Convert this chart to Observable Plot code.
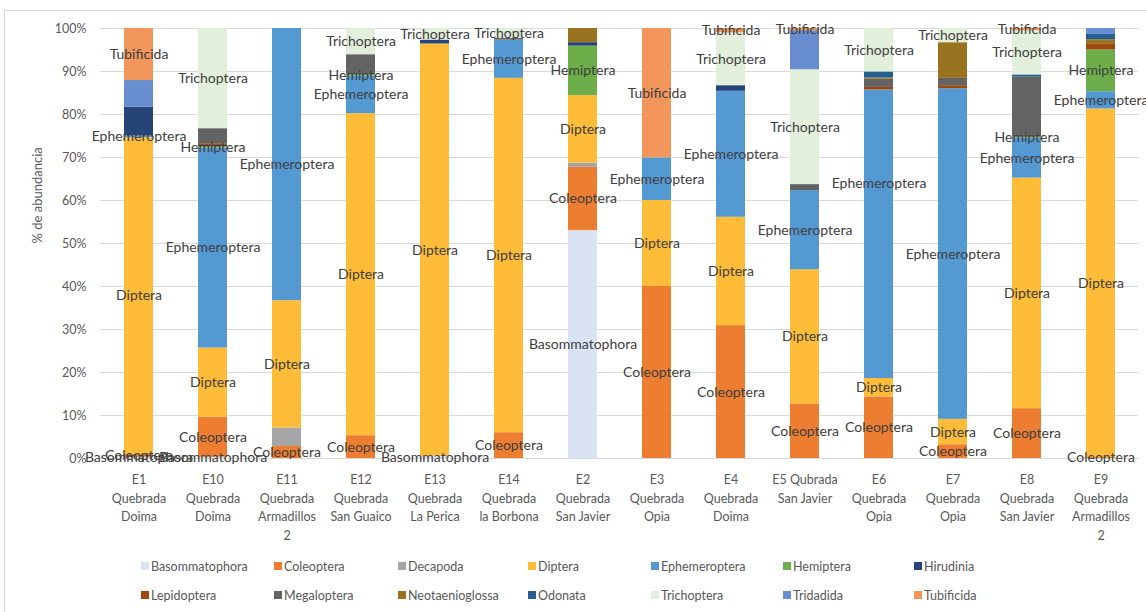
<!DOCTYPE html>
<html><head><meta charset="utf-8">
<script src="https://cdn.jsdelivr.net/npm/d3@7"></script>
<script src="https://cdn.jsdelivr.net/npm/@observablehq/plot@0.6"></script>
<style>
body{margin:0;background:#fff;font-family:Lato,sans-serif;}
#wrap{position:relative;width:1146px;height:612px;overflow:hidden;}
#frame{position:absolute;left:4px;top:10px;width:1170px;height:640px;border:1px solid #d9d9d9;}
#chart{position:absolute;left:0;top:0;}
.leg{position:absolute;font-size:12.5px;color:#595959;display:flex;align-items:center;white-space:nowrap;height:14px;}
.leg .sw{display:inline-block;width:8px;height:8px;margin-right:2px;}
</style></head><body>
<div id="wrap"><div id="frame"></div><div id="chart"></div><div id="legend"></div></div>
<script>
// Sites (categories) and tick labels
const sites = ["E1","E10","E11","E12","E13","E14","E2","E3","E4","E5","E6","E7","E8","E9"];
const siteLabels = [
  "E1\nQuebrada\nDoima","E10\nQuebrada\nDoima","E11\nQuebrada\nArmadillos\n2","E12\nQuebrada\nSan Guaico",
  "E13\nQuebrada\nLa Perica","E14\nQuebrada\nla Borbona","E2\nQuebrada\nSan Javier","E3\nQuebrada\nOpia",
  "E4\nQuebrada\nDoima","E5 Qubrada\nSan Javier","E6\nQuebrada\nOpia","E7\nQuebrada\nOpia",
  "E8\nQuebrada\nSan Javier","E9\nQuebrada\nArmadillos\n2"
];
const taxa = ["Basommatophora","Coleoptera","Decapoda","Diptera","Ephemeroptera","Hemiptera","Hirudinia",
  "Lepidoptera","Megaloptera","Neotaenioglossa","Odonata","Trichoptera","Tridadida","Tubificida"];
const colors = ["#DAE3F3","#ED7D31","#A5A5A5","#FEBC38","#5599D3","#6DAD4A","#264478",
  "#9E480E","#636363","#99731F","#255E91","#E2EFDA","#698ED0","#F3965C"];
const labelledTaxa = ["Basommatophora","Coleoptera","Diptera","Ephemeroptera","Hemiptera","Trichoptera","Tubificida"];
const yTicks = [0,0.1,0.2,0.3,0.4,0.5,0.6,0.7,0.8,0.9,1];
// data label that was dragged upward in the original chart (site, taxon)
const movedLabel = ["E6", "Ephemeroptera"];

// Percent abundance per taxon, in site order above
//                      E1    E10   E11   E12   E13   E14   E2    E3    E4    E5    E6    E7    E8    E9
const Basommatophora = [0.3,  0.3,  0,    0,    0.5,  0,    53.0, 0,    0,    0,    0,    0,    0,    0];
const Coleoptera     = [0.7,  9.3,  2.8,  5.3,  0,    6.0,  14.7, 40.0, 30.9, 12.7, 14.3, 3.2,  11.6, 0.3];
const Decapoda       = [0,    0,    4.3,  0,    0,    0,    1.0,  0,    0,    0,    0,    0,    0,    0];
const Diptera        = [73.6, 16.1, 29.6, 74.9, 95.9, 82.4, 15.7, 20.0, 25.2, 31.2, 4.3,  5.9,  53.6, 81.0];
const Ephemeroptera  = [0.5,  46.5, 63.3, 8.8,  0,    8.9,  0,    9.9,  29.3, 18.4, 67.1, 76.9, 9.3,  4.0];
const Hemiptera      = [0,    0.3,  0,    0.3,  0,    0,    11.5, 0,    0,    0,    0,    0,    0.2,  9.7];
const Hirudinia      = [6.6,  0.3,  0,    0,    0.9,  0,    0.8,  0,    1.3,  0,    0,    0,    0,    0];
const Lepidoptera    = [0,    0.4,  0,    0,    0,    0,    0,    0,    0,    0,    0.6,  0.7,  0,    1.3];
const Megaloptera    = [0,    3.5,  0,    4.6,  0,    0.4,  0,    0,    0,    1.4,  1.9,  1.7,  14.0, 0];
const Neotaenioglossa= [0,    0,    0,    0,    0,    0,    3.3,  0,    0,    0,    0.3,  8.3,  0,    1.1];
const Odonata        = [0,    0,    0,    0,    0,    0,    0,    0,    0,    0,    1.4,  0,    0.5,  1.2];
const Trichoptera    = [0,    23.3, 0,    6.1,  2.7,  2.3,  0,    0,    12.3, 26.7, 10.1, 3.3,  10.3, 0];
const Tridadida      = [6.2,  0,    0,    0,    0,    0,    0,    0,    0,    9.1,  0,    0,    0,    1.4];
const Tubificida     = [12.1, 0,    0,    0,    0,    0,    0,    30.1, 1.0,  0.5,  0,    0,    0.5,  0];

const series = [Basommatophora,Coleoptera,Decapoda,Diptera,Ephemeroptera,Hemiptera,Hirudinia,
  Lepidoptera,Megaloptera,Neotaenioglossa,Odonata,Trichoptera,Tridadida,Tubificida];

const table = [];
taxa.forEach((t, k) => sites.forEach((s, i) => table.push({site: s, taxon: t, value: series[k][i] / 100})));
const labelOf = new Map(sites.map((s, i) => [s, siteLabels[i]]));
const isMoved = d => d.site === movedLabel[0] && d.taxon === movedLabel[1];
const shown = d => labelledTaxa.includes(d.taxon) && d.value > 0;

const stackOpts = {x: "site", y: "value", z: "taxon", order: taxa};
const chart = Plot.plot({
  width: 1146, height: 545,
  marginTop: 28, marginBottom: 87, marginLeft: 100, marginRight: 8,
  style: {fontFamily: "Lato, sans-serif", fontSize: "12.5px", color: "#595959", background: "transparent"},
  x: {domain: sites, paddingInner: 0.61, paddingOuter: 0.3, label: null},
  y: {domain: [0, 1], label: null},
  color: {domain: taxa, range: colors},
  marks: [
    Plot.ruleY(yTicks, {stroke: "#d9d9d9", strokeWidth: 1}),
    Plot.barY(table, Plot.stackY({...stackOpts, fill: "taxon"})),
    Plot.text(table, Plot.stackY({...stackOpts,
      text: d => (shown(d) && !isMoved(d)) ? d.taxon : "", fill: "#404040", fontSize: 14})),
    Plot.text(table, Plot.stackY({...stackOpts,
      text: d => (shown(d) && isMoved(d)) ? d.taxon : "", fill: "#404040", fontSize: 14, dy: -51})),
    Plot.axisY({ticks: yTicks, tickFormat: d3.format(".0%"), tickSize: 0, tickPadding: 14, label: null, fill: "#595959"}),
    Plot.axisX({tickSize: 0, tickPadding: 12, tickFormat: d => labelOf.get(d), lineHeight: 1.5, label: null, fill: "#595959"}),
    Plot.text(["% de abundancia"], {frameAnchor: "left", rotate: -90, dx: -63, fill: "#595959", fontSize: 13})
  ]
});
document.getElementById("chart").appendChild(chart);

// Legend
const legX = [141, 274, 398, 528, 651, 783, 914];
const legY = [559, 588];
const legend = document.getElementById("legend");
taxa.forEach((t, k) => {
  const el = document.createElement("div");
  el.className = "leg";
  el.style.left = legX[k % 7] + "px";
  el.style.top = legY[Math.floor(k / 7)] + "px";
  el.innerHTML = `<span class="sw" style="background:${colors[k]}"></span>${t}`;
  legend.appendChild(el);
});
</script>
</body></html>
